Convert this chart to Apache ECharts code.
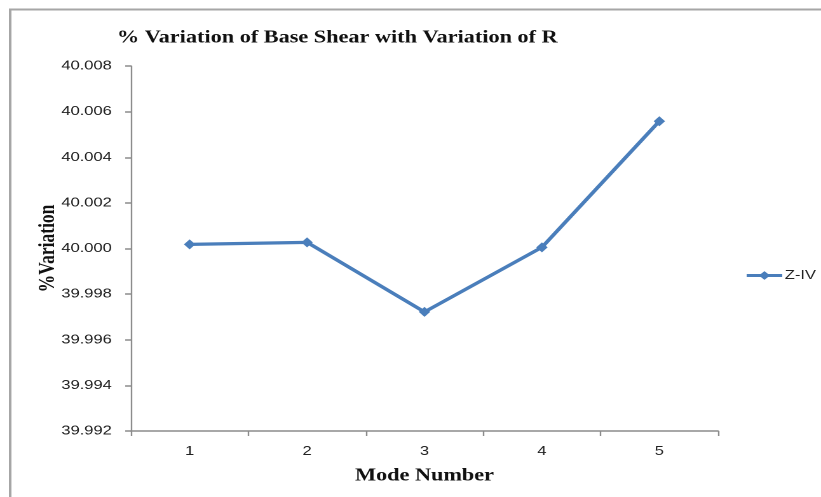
<!DOCTYPE html>
<html>
<head>
<meta charset="utf-8">
<script src="https://cdn.jsdelivr.net/npm/echarts@6/dist/echarts.min.js"></script>
<style>
  html, body { margin: 0; padding: 0; background: #fff; overflow: hidden; }
  #wrap { width: 821px; height: 497px; overflow: hidden; }
  /* the chart is laid out narrower and widened horizontally */
  #chart { width: 646px; height: 497px; transform: scaleX(1.2709); transform-origin: 0 0; }
</style>
</head>
<body>
<div id="wrap"><div id="chart"></div></div>
<script>
// Mode numbers along the x axis
const modes = ['1', '2', '3', '4', '5'];
// % variation of base shear for zone IV
const zIV = [40.00018, 40.00027, 39.99722, 40.00005, 40.00558];
// Y axis range and step
const yMin = 39.992;
const yMax = 40.008;
const yStep = 0.002;

const chart = echarts.init(document.getElementById('chart'), null, {
  renderer: 'canvas',
  devicePixelRatio: 2
});
const axisGray = '#8c8c8c';
const lineBlue = '#4a7ebb';
const serifBold = {
  fontFamily: 'Liberation Serif',
  fontWeight: 'bold',
  fontSize: 17.5,
  color: '#111'
};

chart.setOption({
  animation: false,
  backgroundColor: '#ffffff',
  graphic: [{
    type: 'rect',
    shape: { x: 8, y: 9.5, width: 900, height: 600 },
    style: { fill: 'none', stroke: '#a6a6a6', lineWidth: 2 },
    silent: true
  }],
  title: {
    text: '% Variation of Base Shear with Variation of R',
    left: 92,
    top: 29,
    padding: 0,
    textStyle: serifBold
  },
  legend: {
    orient: 'vertical',
    left: 586,
    top: 269,
    padding: 0,
    itemWidth: 28,
    itemHeight: 11,
    lineStyle: { width: 3 },
    textStyle: { fontFamily: 'Liberation Sans', fontSize: 13, color: '#222', padding: [0, 0, 0, -3] },
    data: ['Z-IV']
  },
  grid: {
    left: 103,
    right: 81,
    top: 66,
    bottom: 66,
    containLabel: false
  },
  xAxis: {
    type: 'category',
    data: modes,
    boundaryGap: true,
    name: 'Mode Number',
    nameLocation: 'middle',
    nameGap: 36,
    nameMoveOverlap: false,
    nameTextStyle: serifBold,
    axisLine: { lineStyle: { color: axisGray, width: 1.5 } },
    axisTick: { show: true, length: 5, lineStyle: { color: axisGray, width: 1.2 } },
    axisLabel: { fontFamily: 'Liberation Sans', fontSize: 13, color: '#222', margin: 14 },
    splitLine: { show: false }
  },
  yAxis: {
    type: 'value',
    min: yMin,
    max: yMax,
    interval: yStep,
    name: '%Variation',
    nameLocation: 'middle',
    nameRotate: 90,
    nameGap: 56,
    nameMoveOverlap: false,
    nameTextStyle: serifBold,
    axisLine: { show: true, lineStyle: { color: axisGray, width: 1.2 } },
    axisTick: { show: true, inside: false, length: 4.5, lineStyle: { color: axisGray, width: 1.5 } },
    axisLabel: {
      fontFamily: 'Liberation Sans',
      fontSize: 13,
      color: '#222',
      margin: 15,
      formatter: v => v.toFixed(3)
    },
    splitLine: { show: false }
  },
  series: [{
    name: 'Z-IV',
    type: 'line',
    data: zIV,
    symbol: 'diamond',
    symbolSize: [9, 10],
    showSymbol: true,
    lineStyle: { color: lineBlue, width: 3.2 },
    itemStyle: { color: lineBlue }
  }]
});
</script>
</body>
</html>
